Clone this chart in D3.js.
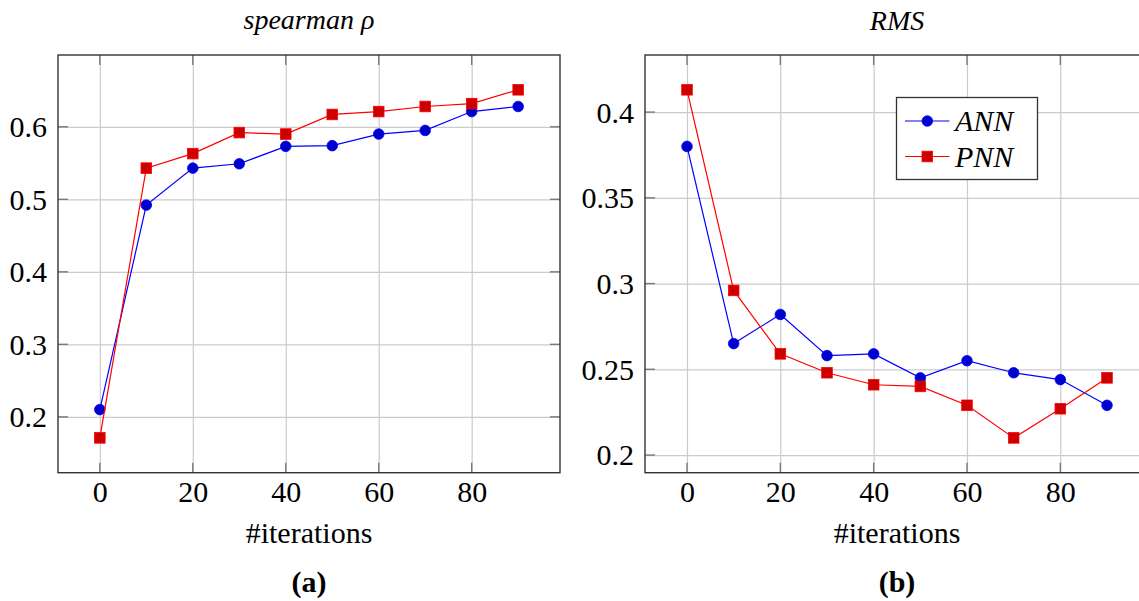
<!DOCTYPE html>
<html>
<head>
<meta charset="utf-8">
<script src="https://cdn.jsdelivr.net/npm/d3@7"></script>
<style>
  body { margin: 0; background: #fff; }
  svg { display: block; }
  svg text { font-family: 'Liberation Serif', 'Times New Roman', Times, 'DejaVu Serif', 'Noto Serif', Tinos, serif !important; fill: #000; }
</style>
</head>
<body>
<svg id="chart" width="1139" height="601"></svg>
<script>
// ---------- data ----------
const iterations   = [0, 10, 20, 30, 40, 50, 60, 70, 80, 90];
const spearmanANN  = [0.210, 0.492, 0.543, 0.549, 0.573, 0.574, 0.590, 0.595, 0.621, 0.628];
const spearmanPNN  = [0.171, 0.543, 0.563, 0.592, 0.590, 0.617, 0.621, 0.628, 0.632, 0.651];
const rmsANN       = [0.380, 0.265, 0.282, 0.258, 0.259, 0.245, 0.255, 0.248, 0.244, 0.229];
const rmsPNN       = [0.413, 0.296, 0.259, 0.248, 0.241, 0.240, 0.229, 0.210, 0.227, 0.245];
const xTicks       = [0, 20, 40, 60, 80];
const spearmanTicks = [0.2, 0.3, 0.4, 0.5, 0.6];
const rmsTicks      = [0.2, 0.25, 0.3, 0.35, 0.4];
const seriesNames   = ["ANN", "PNN"];

// ---------- style ----------
const FONT = 30;
const TITLE_FONT = 28;
const GRID = "#cbcbcb", TICK = "#7a7a7a", FRAME = "#333";
const COLORS = {
  ANN: { line: "#0000ff", fill: "#0000cc" },
  PNN: { line: "#ff0000", fill: "#cc0000" }
};

const svg = d3.select("#chart");

function enlarge(ext) {
  const pad = (ext[1] - ext[0]) * 0.1;
  return [ext[0] - pad, ext[1] + pad];
}

function panel(o) {
  const g = svg.append("g");
  const x = d3.scaleLinear().domain(enlarge(d3.extent(iterations))).range([o.left, o.right]);
  const allY = o.series.flatMap(s => s.values);
  const y = d3.scaleLinear().domain(enlarge(d3.extent(allY))).range([o.bottom, o.top]);
  const H = o.bottom - o.top, W = o.right - o.left;

  // grid via axes
  g.append("g").attr("transform", `translate(0,${o.bottom})`)
    .call(d3.axisBottom(x).tickValues(xTicks).tickSize(-H).tickFormat(""))
    .call(a => a.select(".domain").remove())
    .call(a => a.selectAll("line").attr("stroke", GRID).attr("stroke-width", 1.2));
  g.append("g").attr("transform", `translate(${o.left},0)`)
    .call(d3.axisLeft(y).tickValues(o.yTicks).tickSize(-W).tickFormat(""))
    .call(a => a.select(".domain").remove())
    .call(a => a.selectAll("line").attr("stroke", GRID).attr("stroke-width", 1.2));

  // tick marks (inside, on all four sides)
  const tl = 10;
  const tg = g.append("g").attr("stroke", TICK).attr("stroke-width", 1.4);
  xTicks.forEach(t => {
    tg.append("line").attr("x1", x(t)).attr("x2", x(t)).attr("y1", o.bottom).attr("y2", o.bottom - tl);
    tg.append("line").attr("x1", x(t)).attr("x2", x(t)).attr("y1", o.top).attr("y2", o.top + tl);
  });
  o.yTicks.forEach(t => {
    tg.append("line").attr("y1", y(t)).attr("y2", y(t)).attr("x1", o.left).attr("x2", o.left + tl);
    tg.append("line").attr("y1", y(t)).attr("y2", y(t)).attr("x1", o.right).attr("x2", o.right - tl);
  });

  // tick labels via axes
  g.append("g").attr("transform", `translate(0,${o.bottom})`)
    .call(d3.axisBottom(x).tickValues(xTicks).tickSize(0).tickFormat(d3.format("d")))
    .call(a => a.attr("font-family", null).attr("font-size", null))
    .call(a => a.select(".domain").remove())
    .call(a => a.selectAll("text").attr("y", 29.5).attr("dy", null)
      .style("font-size", FONT + "px").attr("fill", "#000"));
  g.append("g").attr("transform", `translate(${o.left},0)`)
    .call(d3.axisLeft(y).tickValues(o.yTicks).tickSize(0).tickFormat(d => String(+d.toFixed(2))))
    .call(a => a.attr("font-family", null).attr("font-size", null))
    .call(a => a.select(".domain").remove())
    .call(a => a.selectAll("text").attr("x", -11).attr("dy", "0.33em")
      .style("font-size", FONT + "px").attr("fill", "#000"));

  // frame
  g.append("rect").attr("x", o.left).attr("y", o.top).attr("width", W).attr("height", H)
    .attr("fill", "none").attr("stroke", FRAME).attr("stroke-width", 1.4);

  // series
  const line = d3.line().x((d, i) => x(iterations[i])).y(d => y(d));
  o.series.forEach(s => {
    const c = COLORS[s.name];
    g.append("path").datum(s.values).attr("d", line)
      .attr("fill", "none").attr("stroke", c.line).attr("stroke-width", 1.2);
    const mg = g.append("g");
    s.values.forEach((v, i) => drawMarker(mg, s.name, x(iterations[i]), y(v)));
  });

  // title
  g.append("text").attr("x", (o.left + o.right) / 2).attr("y", o.titleY)
    .attr("text-anchor", "middle").style("font-size", TITLE_FONT + "px").style("font-style", "italic")
    .text(o.title);
  // x label
  g.append("text").attr("x", (o.left + o.right) / 2).attr("y", 542.5)
    .attr("text-anchor", "middle").style("font-size", FONT + "px").text("#iterations");
  // caption
  g.append("text").attr("x", (o.left + o.right) / 2).attr("y", 591.5)
    .attr("text-anchor", "middle").style("font-size", FONT + "px").style("font-weight", "bold")
    .text(o.caption);

  if (o.legend) {
    const lg = g.append("g");
    const bx = 896.5, by = 97.5, bw = 141, bh = 82;
    lg.append("rect").attr("x", bx).attr("y", by).attr("width", bw).attr("height", bh)
      .attr("fill", "#fff").attr("stroke", FRAME).attr("stroke-width", 1.3);
    o.series.forEach((s, i) => {
      const cy = [121, 156.5][i];
      const c = COLORS[s.name];
      lg.append("line").attr("x1", 905).attr("x2", 949.5).attr("y1", cy).attr("y2", cy)
        .attr("stroke", c.line).attr("stroke-width", 1.2);
      drawMarker(lg, s.name, 927.3, cy);
      lg.append("text").attr("x", 955).attr("y", cy).attr("dy", "0.34em")
        .style("font-size", FONT + "px").style("font-style", "italic").text(s.name);
    });
  }
}

function drawMarker(sel, name, cx, cy) {
  const c = COLORS[name];
  if (name === "ANN") {
    sel.append("circle").attr("cx", cx).attr("cy", cy).attr("r", 5.3)
      .attr("fill", c.fill).attr("stroke", c.line).attr("stroke-width", 0.8);
  } else {
    const s = 10.6;
    sel.append("rect").attr("x", cx - s / 2).attr("y", cy - s / 2).attr("width", s).attr("height", s)
      .attr("fill", c.fill).attr("stroke", c.line).attr("stroke-width", 0.8);
  }
}

panel({
  left: 58, right: 560, top: 55, bottom: 472.7,
  yTicks: spearmanTicks, title: "spearman ρ", titleY: 29, caption: "(a)",
  series: [{ name: seriesNames[0], values: spearmanANN }, { name: seriesNames[1], values: spearmanPNN }],
  legend: false
});
panel({
  left: 645, right: 1149, top: 55, bottom: 472.7,
  yTicks: rmsTicks, title: "RMS", titleY: 30, caption: "(b)",
  series: [{ name: seriesNames[0], values: rmsANN }, { name: seriesNames[1], values: rmsPNN }],
  legend: true
});
</script>
</body>
</html>
